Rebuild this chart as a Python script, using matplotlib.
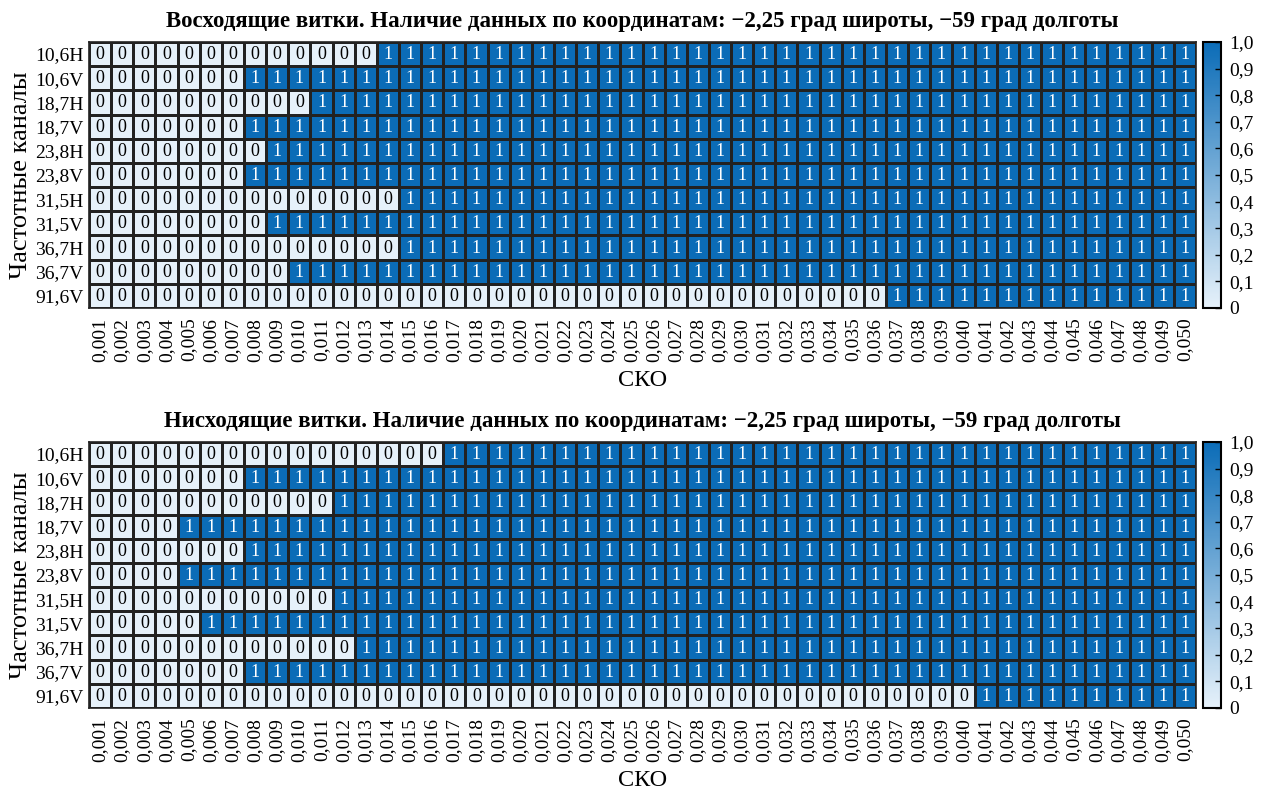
import numpy as np
import matplotlib
matplotlib.use("Agg")
import matplotlib.pyplot as plt
from matplotlib.colors import LinearSegmentedColormap

plt.rcParams['font.family'] = ['Liberation Serif', 'DejaVu Serif']

channels = ["10,6H", "10,6V", "18,7H", "18,7V", "23,8H", "23,8V",
            "31,5H", "31,5V", "36,7H", "36,7V", "91,6V"]
sko_labels = ["0,%03d" % i for i in range(1, 51)]

# number of leading zeros (columns without data) per channel
asc_zeros = [13, 7, 10, 7, 8, 7, 14, 8, 14, 9, 36]
desc_zeros = [16, 7, 11, 4, 7, 4, 11, 5, 12, 7, 40]

titles = [
    "Восходящие витки. Наличие данных по координатам: \u22122,25 град широты, \u221259 град долготы",
    "Нисходящие витки. Наличие данных по координатам: \u22122,25 град широты, \u221259 град долготы",
]


def build(zeros):
    m = np.ones((len(channels), len(sko_labels)))
    for r, z in enumerate(zeros):
        m[r, :z] = 0
    return m


cmap = LinearSegmentedColormap.from_list("bl", ["#e6f1fa", "#0b6cb7"])

fig = plt.figure(figsize=(12.66, 7.91), dpi=100)
W, H = 1266, 791
ax_left, ax_right = 89, 1196
cb_left, cb_right = 1203, 1221
panels = [(42, 308), (442, 708)]

for (top, bot), zeros, title in zip(panels, [asc_zeros, desc_zeros], titles):
    data = build(zeros)
    ax = fig.add_axes([ax_left / W, 1 - bot / H, (ax_right - ax_left) / W, (bot - top) / H])
    mesh = ax.pcolormesh(data, cmap=cmap, vmin=0, vmax=1,
                         edgecolors="#222222", linewidth=0.75)
    ax.set_xlim(0, len(sko_labels))
    ax.set_ylim(len(channels), 0)
    for r in range(data.shape[0]):
        for c in range(data.shape[1]):
            v = int(data[r, c])
            ax.text(c + 0.5, r + 0.52, str(v), ha="center", va="center",
                    fontsize=13, color="white" if v == 1 else "black")
    ax.set_xticks(np.arange(len(sko_labels)) + 0.5)
    ax.set_xticklabels(sko_labels, rotation=90, fontsize=14)
    ax.set_yticks(np.arange(len(channels)) + 0.5)
    ax.set_yticklabels(channels, fontsize=14)
    ax.tick_params(axis="x", length=0, pad=7)
    ax.tick_params(axis="y", length=0, pad=4)
    for s in ax.spines.values():
        s.set_linewidth(1.2)
        s.set_color("#222222")
    ax.set_xlabel("СКО", fontsize=17.5, labelpad=6)
    ax.set_ylabel("Частотные каналы", fontsize=19, labelpad=2)
    ax.set_title(title, fontsize=16.5, fontweight="bold", pad=11)

    cax = fig.add_axes([cb_left / W, 1 - bot / H, (cb_right - cb_left) / W, (bot - top) / H])
    cb = fig.colorbar(mesh, cax=cax)
    ticks = np.arange(0, 1.01, 0.1)
    cb.set_ticks(ticks)
    cb.set_ticklabels(["0"] + ["0,%d" % i for i in range(1, 10)] + ["1,0"])
    cb.ax.tick_params(direction="in", length=4, width=1, labelsize=14, pad=6)
    cb.outline.set_linewidth(1.5)

fig.savefig("out.png", dpi=100)
